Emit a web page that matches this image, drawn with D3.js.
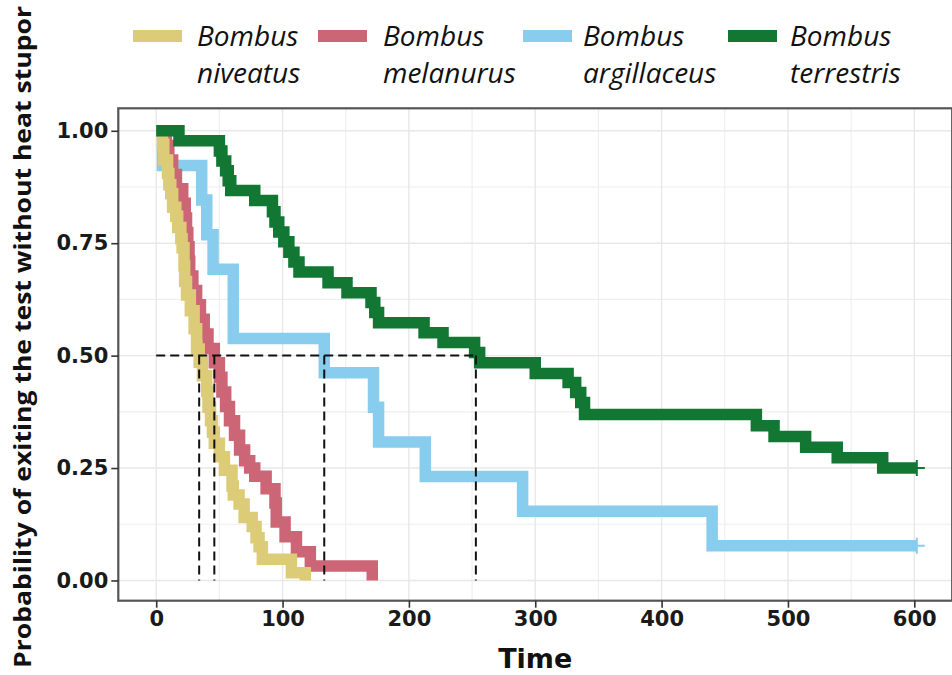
<!DOCTYPE html>
<html><head><meta charset="utf-8">
<script src="https://cdn.jsdelivr.net/npm/d3@7"></script>
<style>
html,body{margin:0;padding:0;background:#fff;}
svg{display:block;}
</style></head>
<body><svg id="chart" width="952" height="675"></svg>
<script>
// ---------- data ----------
const timeTicks = [0, 100, 200, 300, 400, 500, 600];
const timeMinor = [50, 150, 250, 350, 450, 550];
const survTicks = [0, 0.25, 0.5, 0.75, 1];
const survMinor = [0.125, 0.375, 0.625, 0.875];
const genusNames = ["Bombus", "Bombus", "Bombus", "Bombus"];
const speciesNames = ["niveatus", "melanurus", "argillaceus", "terrestris"];
const seriesColors = ["#DDCC77", "#CC6677", "#88CCEE", "#117733"];

const niveatusTime = [0, 5, 6, 9, 10, 11.5, 13, 15.5, 17, 19.5, 20.5, 22, 22.5, 24, 27, 30, 32, 34, 36.6, 40, 41, 43, 44.5, 46, 50, 54, 60, 61, 65.6, 69.6, 76, 79, 81.4, 84, 107, 118];
const niveatusSurv = [1, 0.97, 0.935, 0.905, 0.88, 0.86, 0.83, 0.81, 0.785, 0.76, 0.74, 0.70, 0.665, 0.635, 0.60, 0.56, 0.515, 0.485, 0.455, 0.42, 0.385, 0.355, 0.33, 0.305, 0.275, 0.245, 0.21, 0.19, 0.17, 0.14, 0.12, 0.095, 0.075, 0.047, 0.017, 0];

const melanurusTime = [0, 8, 10, 13, 16, 21, 23, 24, 25, 26, 26.5, 29, 32, 35, 38, 41, 46, 50, 52, 55, 58, 62, 66, 70, 74, 78, 87, 94, 95, 102, 111, 122, 171];
const melanurusSurv = [1, 0.967, 0.935, 0.903, 0.871, 0.839, 0.806, 0.774, 0.742, 0.71, 0.677, 0.645, 0.613, 0.581, 0.548, 0.516, 0.484, 0.452, 0.419, 0.387, 0.355, 0.323, 0.29, 0.266, 0.25, 0.232, 0.204, 0.172, 0.13, 0.097, 0.064, 0.032, 0];

const argillaceusTime = [0, 5, 36, 40, 45, 61, 133, 172, 176, 213, 290, 440, 602];
const argillaceusSurv = [1, 0.923, 0.846, 0.769, 0.692, 0.538, 0.462, 0.385, 0.308, 0.231, 0.154, 0.077, 0.077];

const terrestrisTime = [0, 18, 50, 52, 55, 57, 59, 78, 92, 94, 97, 101, 105, 109, 113, 136, 151, 170, 173, 176, 212, 227, 252, 256, 300, 326, 332, 336, 339, 475, 489, 514, 539, 575, 602];
const terrestrisSurv = [1, 0.978, 0.955, 0.933, 0.911, 0.889, 0.867, 0.845, 0.82, 0.797, 0.775, 0.753, 0.73, 0.708, 0.686, 0.662, 0.64, 0.618, 0.596, 0.573, 0.551, 0.529, 0.507, 0.484, 0.46, 0.44, 0.418, 0.396, 0.369, 0.344, 0.32, 0.296, 0.273, 0.25, 0.25];

const medianTimes = [34, 46, 133, 253];

const xTitle = "Time";
const yTitle = "Probability of exiting the test without heat stupor";

// ---------- layout ----------
const svg = d3.select("#chart");
const x = d3.scaleLinear().domain([-30, 630]).range([118.3, 952.2]);
const y = d3.scaleLinear().domain([-0.045, 1.05]).range([600.7, 108.3]);

const series = [
  {t: niveatusTime, s: niveatusSurv},
  {t: melanurusTime, s: melanurusSurv},
  {t: argillaceusTime, s: argillaceusSurv},
  {t: terrestrisTime, s: terrestrisSurv}
].map((d, i) => ({points: d.t.map((t, j) => [t, d.s[j]]), color: seriesColors[i]}));

const panel = svg.append("g");
panel.append("rect").attr("x", x(-30)).attr("y", y(1.05))
  .attr("width", x(630) - x(-30)).attr("height", y(-0.045) - y(1.05)).attr("fill", "#fff");

// gridlines
const grid = panel.append("g");
grid.selectAll(".vmin").data(timeMinor).join("line")
  .attr("x1", d => x(d)).attr("x2", d => x(d)).attr("y1", y(1.05)).attr("y2", y(-0.045))
  .attr("stroke", "#eeeeee").attr("stroke-width", 1.1);
grid.selectAll(".hmin").data(survMinor).join("line")
  .attr("y1", d => y(d)).attr("y2", d => y(d)).attr("x1", x(-30)).attr("x2", x(630))
  .attr("stroke", "#eeeeee").attr("stroke-width", 1.1);
grid.selectAll(".vmaj").data(timeTicks).join("line")
  .attr("x1", d => x(d)).attr("x2", d => x(d)).attr("y1", y(1.05)).attr("y2", y(-0.045))
  .attr("stroke", "#e8e8e8").attr("stroke-width", 1.4);
grid.selectAll(".hmaj").data(survTicks).join("line")
  .attr("y1", d => y(d)).attr("y2", d => y(d)).attr("x1", x(-30)).attr("x2", x(630))
  .attr("stroke", "#e8e8e8").attr("stroke-width", 1.4);

// curves
const line = d3.line().x(d => x(d[0])).y(d => y(d[1])).curve(d3.curveStepAfter);
const drawOrder = [2, 1, 0, 3];
const curves = svg.append("g");
drawOrder.forEach(i => {
  const sr = series[i];
  curves.append("path").datum(sr.points).attr("d", line)
    .attr("fill", "none").attr("stroke", sr.color).attr("stroke-width", 11.5)
    .attr("stroke-linejoin", "miter").attr("stroke-miterlimit", 4).attr("stroke-linecap", "butt");
  const last = sr.points[sr.points.length - 1];
  if (last[1] > 0) {
    const cx = x(last[0]), cy = y(last[1]);
    curves.append("path")
      .attr("d", `M${cx - 8},${cy}H${cx + 8}M${cx},${cy - 8}V${cy + 8}`)
      .attr("stroke", sr.color).attr("stroke-width", 2).attr("fill", "none");
  }
});

// median lines
const med = svg.append("g").attr("stroke", "#111").attr("stroke-width", 2)
  .attr("stroke-dasharray", "9,5").attr("fill", "none");
med.append("line").attr("x1", x(0)).attr("x2", x(d3.max(medianTimes)))
  .attr("y1", y(0.5)).attr("y2", y(0.5));
med.selectAll(".vm").data(medianTimes).join("line")
  .attr("x1", d => x(d)).attr("x2", d => x(d)).attr("y1", y(0.5)).attr("y2", y(0));

// panel border
svg.append("rect").attr("x", x(-30)).attr("y", y(1.05))
  .attr("width", x(630) - x(-30)).attr("height", y(-0.045) - y(1.05))
  .attr("fill", "none").attr("stroke", "#555").attr("stroke-width", 2.2);

// axes
const tickFont = "'DejaVu Sans', sans-serif";
const yAxis = svg.append("g").attr("transform", `translate(${x(-30)},0)`)
  .call(d3.axisLeft(y).tickValues(survTicks).tickFormat(d3.format(".2f")).tickSize(7).tickPadding(3));
const xAxis = svg.append("g").attr("transform", `translate(0,${y(-0.045)})`)
  .call(d3.axisBottom(x).tickValues(timeTicks).tickFormat(d3.format("d")).tickSize(7).tickPadding(3));
[xAxis, yAxis].forEach(a => {
  a.select(".domain").remove();
  a.selectAll(".tick line").attr("stroke", "#333").attr("stroke-width", 1.6);
  a.selectAll(".tick text").attr("fill", "#1a1a1a").style("font-family", tickFont)
    .style("font-weight", "bold").style("font-size", "21px");
});

// axis titles
svg.append("text").attr("x", (x(-30) + x(630)) / 2).attr("y", 668)
  .attr("text-anchor", "middle").style("font-family", tickFont).style("font-weight", "bold")
  .style("font-size", "27px").attr("fill", "#111").text(xTitle);
svg.append("text").attr("transform", "translate(31,337) rotate(-90)")
  .attr("text-anchor", "middle").style("font-family", "'Open Sans', sans-serif").style("font-weight", "bold")
  .style("font-size", "24px").attr("fill", "#111")
  .attr("textLength", 662).attr("lengthAdjust", "spacingAndGlyphs").text(yTitle);

// legend
const keyX = [133, 318, 523, 728];
const textX = [197, 383, 583, 790];
const legend = svg.append("g");
speciesNames.forEach((sp, i) => {
  legend.append("rect").attr("x", keyX[i]).attr("y", 30).attr("width", 49).attr("height", 12)
    .attr("fill", seriesColors[i]);
  const t = legend.append("text")
    .style("font-family", "'Open Sans', sans-serif").style("font-style", "italic")
    .style("font-size", "28px").attr("fill", "#111");
  t.append("tspan").attr("x", textX[i]).attr("y", 46).text(genusNames[i]);
  t.append("tspan").attr("x", textX[i]).attr("y", 83).text(sp);
});
</script>
</body></html>
